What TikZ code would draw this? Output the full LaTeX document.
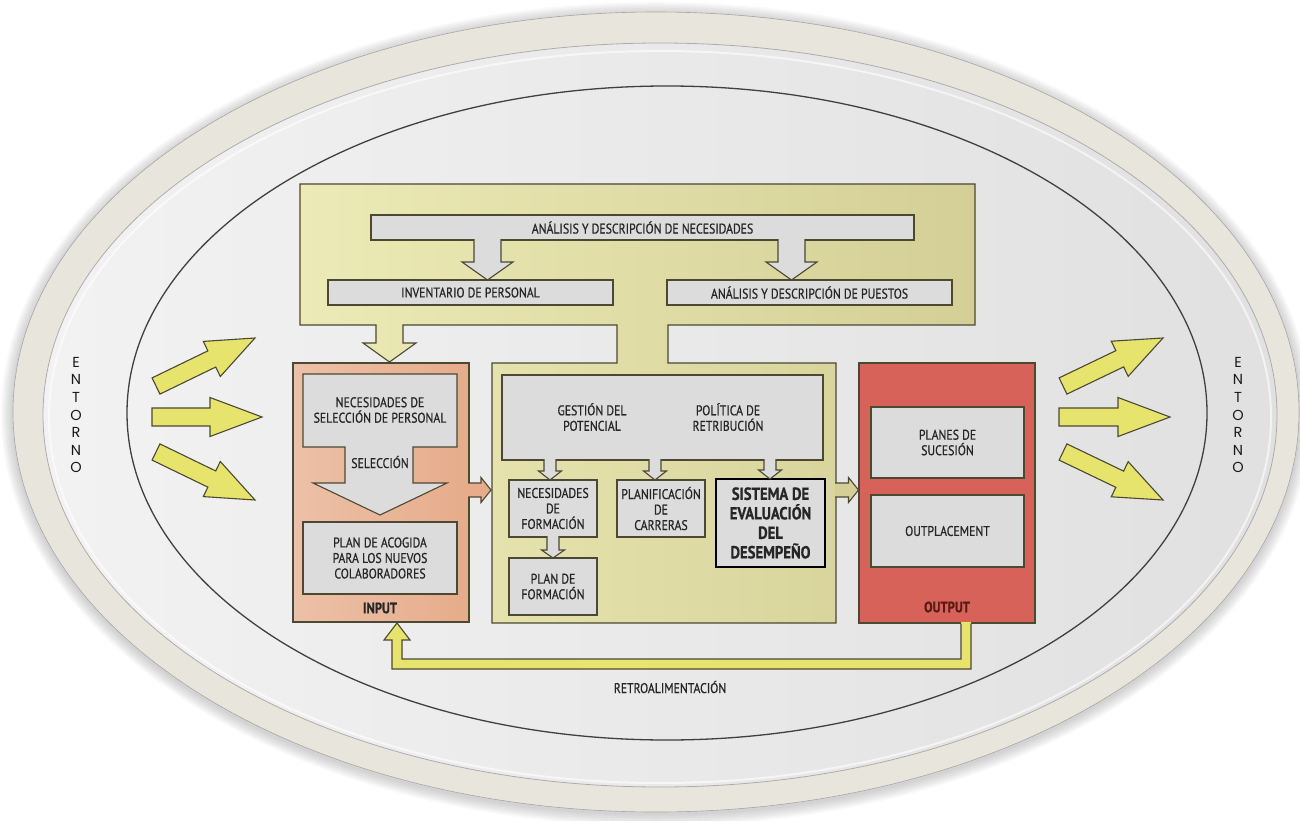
\documentclass[tikz,border=0pt]{standalone}
\usepackage{fontspec}
\setmainfont[FakeStretch=0.84, FakeBold=0.7]{PT Sans}
\newfontfamily\wideface{Poppins}
\usetikzlibrary{calc,positioning}
\definecolor{RimCream}{HTML}{E8E6DC}
\definecolor{FrameLight}{HTML}{ECEAB6}
\definecolor{FrameDark}{HTML}{D3CF96}
\definecolor{BoxGray}{HTML}{DCDCDC}
\definecolor{InSalmon}{HTML}{E6AC8B}
\definecolor{OutRed}{HTML}{D6625A}
\definecolor{ArrowYellow}{HTML}{E6E46C}
\definecolor{Edge}{HTML}{4B4833}
\definecolor{OutText}{HTML}{5A1A14}

\newcommand{\boxfont}{\fontsize{14}{15.5}\selectfont}
\newcommand{\bigfont}{\fontsize{17.5}{19.5}\selectfont\bfseries}

% closed block arrow: style, tail, tip, half stem, half head, head length
\newcommand{\blockarrow}[6][]{%
  \coordinate (ba-h) at ($(#3)!#6!(#2)$);
  \draw[#1] ($(#2)!#4!90:(#3)$) -- ($(ba-h)!#4!-90:(#2)$) -- ($(ba-h)!#5!-90:(#2)$) -- (#3)
    -- ($(ba-h)!#5!90:(#2)$) -- ($(ba-h)!#4!90:(#2)$) -- ($(#2)!#4!-90:(#3)$) -- cycle;
}
% same arrow, but open at the tail (it leaves a box)
\newcommand{\stubarrow}[6][]{%
  \coordinate (ba-h) at ($(#3)!#6!(#2)$);
  \fill[#1, draw=none] ($(#2)!#4!90:(#3)$) -- ($(ba-h)!#4!-90:(#2)$) -- ($(ba-h)!#5!-90:(#2)$) -- (#3)
    -- ($(ba-h)!#5!90:(#2)$) -- ($(ba-h)!#4!90:(#2)$) -- ($(#2)!#4!-90:(#3)$) -- cycle;
  \draw[#1, fill=none] ($(#2)!#4!90:(#3)$) -- ($(ba-h)!#4!-90:(#2)$) -- ($(ba-h)!#5!-90:(#2)$) -- (#3)
    -- ($(ba-h)!#5!90:(#2)$) -- ($(ba-h)!#4!90:(#2)$) -- ($(#2)!#4!-90:(#3)$);
}

\begin{document}
\begin{tikzpicture}[
    x=1pt, y=-1pt,
    every node/.style={inner sep=0pt, outer sep=0pt, align=center, font=\boxfont, text=black!85},
    graybox/.style={draw=Edge, fill=BoxGray, line width=1.1pt, rectangle},
    boldbox/.style={graybox, draw=black, line width=2.6pt, font=\bigfont},
    inbox/.style={draw=Edge, line width=1.1pt, left color=InSalmon!75!white, right color=InSalmon},
    outbox/.style={draw=Edge, line width=1.1pt, fill=OutRed},
    frame/.style={draw=Edge, line width=1.1pt, left color=FrameLight, right color=FrameDark},
    yelarrow/.style={fill=ArrowYellow, draw=Edge, line width=1.1pt},
    grayarrow/.style={fill=BoxGray, draw=Edge, line width=1.1pt},
    entorno/.style={font=\wideface\fontsize{14.5}{17.6}\selectfont, text=black!90}
  ]
  \useasboundingbox (0,0) rectangle (1300,821);

  % plate, rim and environment line
  \foreach \s in {1,...,8}
    \fill[black, opacity=0.025] (656,414) ellipse [x radius={643pt+\s*1.5pt}, y radius={400pt+\s*1.5pt}];
  \filldraw[fill=RimCream, draw=gray!70, line width=0.6pt] (656,412) ellipse [x radius=643pt, y radius=400pt];
  \shadedraw[left color=gray!10, right color=gray!24, draw=gray!65, line width=0.8pt]
    (660,415) ellipse [x radius=617pt, y radius=372pt];
  \draw[white, line width=2pt, opacity=0.6] (660,417) ellipse [x radius=611pt, y radius=366pt];
  \draw[black!75, line width=1.3pt] (667,413) ellipse [x radius=540pt, y radius=327pt];

  % yellow frame with the process box
  \draw[frame] (300,184) -- (975,184) -- (975,325) -- (668,325) -- (668,363) -- (836,363)
    -- (836,623) -- (492,623) -- (492,363) -- (617,363) -- (617,325) -- (403,325)
    -- (403,343) -- (416,343) -- (389.5,362) -- (363,343) -- (376,343) -- (376,325)
    -- (300,325) -- cycle;

  \node[graybox, minimum width=543pt, minimum height=25pt] (needs) at (642.5,227.5)
  {ANÁLISIS Y DESCRIPCIÓN DE NECESIDADES};
  \node[graybox, minimum width=285pt, minimum height=25pt] (inventory) at (470.5,292.5)
  {INVENTARIO DE PERSONAL};
  \node[graybox, minimum width=285pt, minimum height=25pt] (jobs) at (809.5,292.5)
  {ANÁLISIS Y DESCRIPCIÓN DE PUESTOS};

  \coordinate (n2i) at (487.5,239);
  \coordinate (n2j) at (791.5,239);
  \stubarrow[grayarrow]{n2i}{n2i|-inventory.north}{13.5pt}{25.5pt}{18pt}
  \stubarrow[grayarrow]{n2j}{n2j|-jobs.north}{13.5pt}{25.5pt}{18pt}

  % input
  \node[inbox, minimum width=176pt, minimum height=259pt] (input) at (381,492.5) {};
  \draw[graybox] (303,374) -- (457,374) -- (457,447) -- (413,447) -- (413,483) -- (447,483)
    -- (380,515) -- (313,483) -- (345,483) -- (345,447) -- (303,447) -- cycle;
  \node (selneeds) at (380,410) {NECESIDADES DE\\SELECCIÓN DE PERSONAL};
  \node (selection) at (380,462) {SELECCIÓN};
  \node[graybox, minimum width=154pt, minimum height=72pt] (welcome) at (380,558)
  {PLAN DE ACOGIDA\\PARA LOS NUEVOS\\COLABORADORES};
  \node[font=\fontsize{15}{17}\selectfont\bfseries] (inlabel) at (380,608) {INPUT};

  % process
  \node[graybox, minimum width=321pt, minimum height=85pt] (policy) at (662.5,417.5) {};
  \node (potential) at (592,417) {GESTIÓN DEL\\POTENCIAL};
  \node (pay) at (728,417) {POLÍTICA DE\\RETRIBUCIÓN};
  \node[graybox, minimum width=88pt, minimum height=57pt] (trainneeds) at (553,508.5)
  {NECESIDADES\\DE\\FORMACIÓN};
  \node[graybox, minimum width=88pt, minimum height=57pt] (trainplan) at (553,586.5)
  {PLAN DE\\FORMACIÓN};
  \node[graybox, minimum width=88pt, minimum height=57pt] (careers) at (661,508.5)
  {PLANIFICACIÓN\\DE\\CARRERAS};
  \node[boldbox, minimum width=109pt, minimum height=88pt] (appraisal) at (770.5,523)
  {SISTEMA DE\\EVALUACIÓN\\DEL\\DESEMPEÑO};

  \coordinate (p1) at (550,459);
  \coordinate (p2) at (655,459);
  \coordinate (p3) at (770,459);
  \stubarrow[grayarrow]{p1}{p1|-trainneeds.north}{6pt}{11.5pt}{9pt}
  \stubarrow[grayarrow]{p2}{p2|-careers.north}{6pt}{11.5pt}{9pt}
  \stubarrow[grayarrow]{p3}{p3|-appraisal.north}{6pt}{11.5pt}{9pt}
  \coordinate (t1) at ($(trainneeds.south)+(0,-1)$);
  \stubarrow[grayarrow]{t1}{trainplan.north}{6pt}{11.5pt}{8pt}

  % output
  \node[outbox, minimum width=176pt, minimum height=260pt] (output) at (947,493) {};
  \node[graybox, minimum width=153pt, minimum height=71pt] (succession) at (947.5,442.5)
  {PLANES DE\\SUCESIÓN};
  \node[graybox, minimum width=153pt, minimum height=72pt] (outplace) at (947.5,531)
  {OUTPLACEMENT};
  \node[font=\fontsize{15}{17}\selectfont\bfseries, text=OutText] (outlabel) at (947,607) {OUTPUT};

  % flows between the blocks
  \coordinate (i1) at (468,490);
  \coordinate (i2) at (491,490);
  \stubarrow[fill=InSalmon, draw=Edge, line width=1.1pt]{i1}{i2}{7pt}{12.5pt}{10pt}
  \coordinate (o1) at (835,490);
  \coordinate (o2) at (858.5,490);
  \stubarrow[fill=FrameDark, draw=Edge, line width=1.1pt]{o1}{o2}{7pt}{12.5pt}{10pt}

  % feedback
  \fill[ArrowYellow] (961,622) -- (961,659) -- (402,659) -- (402,640) -- (410,640)
    -- (397,623) -- (384,640) -- (392,640) -- (392,669) -- (971,669) -- (971,622) -- cycle;
  \draw[Edge, line width=1.1pt, line join=miter] (961,623.5) -- (961,659) -- (402,659) -- (402,640)
    -- (410,640) -- (397,623) -- (384,640) -- (392,640) -- (392,669) -- (971,669) -- (971,623.5);
  \node (feedback) at (670,687) {RETROALIMENTACIÓN};

  % environment
  \node[entorno] (envin) at (76,415) {E\\N\\T\\O\\R\\N\\O};
  \node[entorno] (envout) at (1238,415) {E\\N\\T\\O\\R\\N\\O};
  \coordinate (l1a) at (156,386);  \coordinate (l1b) at (255,338);
  \coordinate (l2a) at (152,417);  \coordinate (l2b) at (262,417);
  \coordinate (l3a) at (156,452);  \coordinate (l3b) at (255,500);
  \blockarrow[yelarrow]{l1a}{l1b}{9pt}{19.5pt}{48pt}
  \blockarrow[yelarrow]{l2a}{l2b}{9pt}{19.5pt}{52pt}
  \blockarrow[yelarrow]{l3a}{l3b}{9pt}{19.5pt}{48pt}
  \coordinate (r1a) at (1063,386); \coordinate (r1b) at (1163,338);
  \coordinate (r2a) at (1059,417); \coordinate (r2b) at (1170,417);
  \coordinate (r3a) at (1063,452); \coordinate (r3b) at (1163,500);
  \blockarrow[yelarrow]{r1a}{r1b}{9pt}{19.5pt}{48pt}
  \blockarrow[yelarrow]{r2a}{r2b}{9pt}{19.5pt}{52pt}
  \blockarrow[yelarrow]{r3a}{r3b}{9pt}{19.5pt}{48pt}
\end{tikzpicture}
\end{document}
